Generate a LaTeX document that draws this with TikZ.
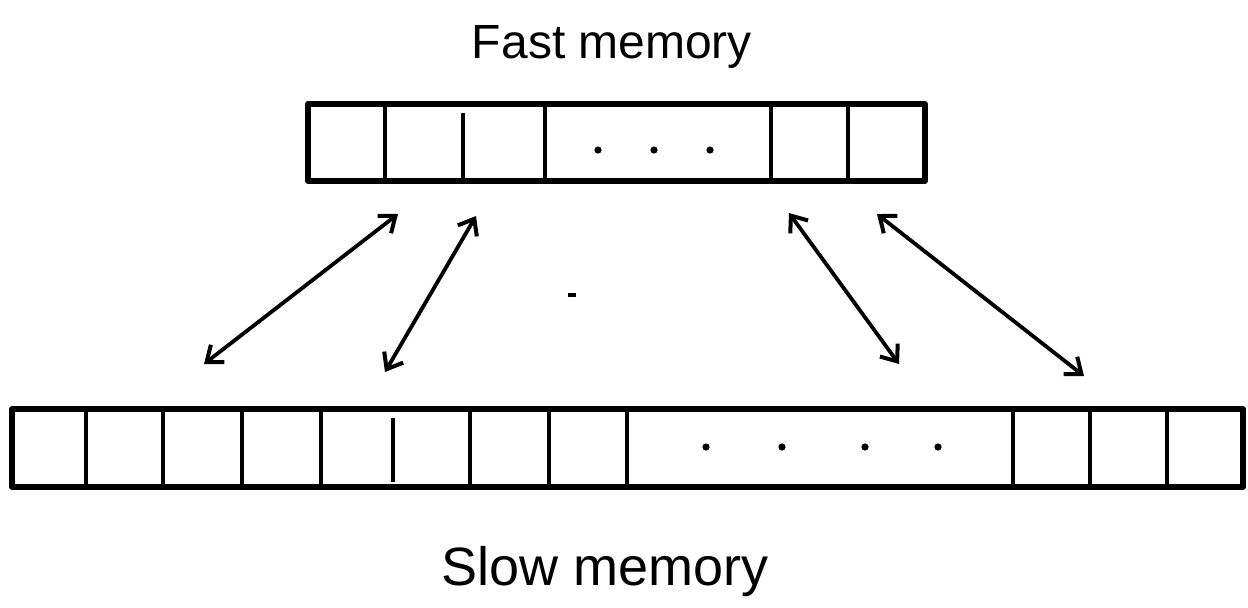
\documentclass[tikz,border=0pt]{standalone}
\usepackage{fontspec}
\setmainfont{Liberation Sans}
\usetikzlibrary{arrows.meta}
\begin{document}
\begin{tikzpicture}[x=0.5pt,y=-0.5pt,
  bar/.style={line width=2.8pt, line join=round},
  cell/.style={line width=2.4pt},
  dotmark/.style={fill=black},
  link/.style={line width=1.9pt, {Straight Barb[length=7pt,width=11pt,line width=2pt]}-{Straight Barb[length=7pt,width=11pt,line width=2pt]}},
  label/.style={font=\fontsize{24}{28}\selectfont, inner sep=0pt, anchor=base}]
  \useasboundingbox (0,0) rectangle (1248,607);

  % fast memory bar
  \draw[bar] (308,104) rectangle (925,181);
  \foreach \x in {385,545,771,848} \draw[cell] (\x,104) -- (\x,181);
  \draw[cell] (463,113) -- (463,181);
  \foreach \x in {598,654,710} \fill[dotmark] (\x,150) circle (3.6);

  % slow memory bar
  \draw[bar] (12,409) rectangle (1243,487);
  \foreach \x in {86,163,242,321,470,549,627,1013,1090,1167} \draw[cell] (\x,409) -- (\x,487);
  \draw[cell] (393,418) -- (393,482);
  \foreach \x in {706,782,865,938} \fill[dotmark] (\x,447) circle (3.6);

  % arrow end points
  \coordinate (a1) at (204,364);
  \coordinate (b1) at (398,214);
  \coordinate (a2) at (385,372);
  \coordinate (b2) at (476,216);
  \coordinate (a3) at (899,364);
  \coordinate (b3) at (789,213);
  \coordinate (a4) at (1084,376);
  \coordinate (b4) at (877,214);

  \draw[link] (a1) -- (b1);
  \draw[link] (a2) -- (b2);
  \draw[link] (a3) -- (b3);
  \draw[link] (a4) -- (b4);

  % stray pencil mark
  \coordinate (m1) at (568,295);
  \coordinate (m2) at (576,295);
  \draw[line width=1.8pt] (m1) -- (m2);

  \node[label] (fast) at (612,58) {Fast memory};
  \node[label, font=\fontsize{27}{32}\selectfont] (slow) at (605,585) {Slow memory};
\end{tikzpicture}
\end{document}
